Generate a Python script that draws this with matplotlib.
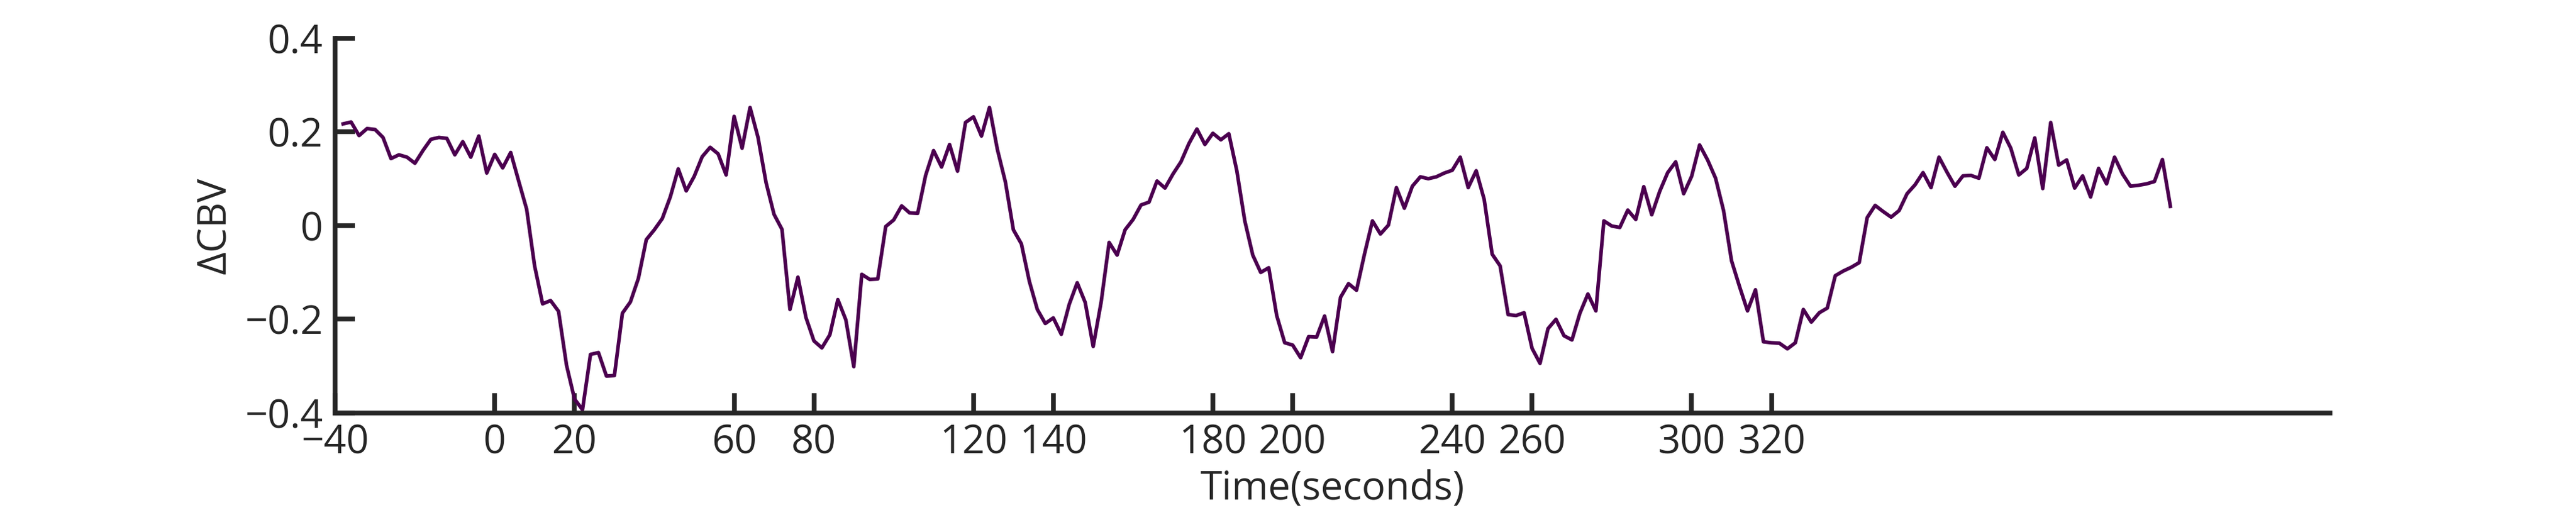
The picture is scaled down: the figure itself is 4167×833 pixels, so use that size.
import numpy as np
import matplotlib
matplotlib.use('Agg')
import matplotlib.pyplot as plt

# sample times (s), one sample every 2 s
time_s = np.arange(-38, 421, 2)

delta_cbv = [
    0.217, 0.221, 0.192, 0.207, 0.205, 0.188, 0.143, 0.151, 0.146, 0.133,
    0.160, 0.184, 0.188, 0.186, 0.151, 0.179, 0.146, 0.191, 0.112, 0.152,
    0.123, 0.156, 0.095, 0.035, -0.086, -0.167, -0.160, -0.183, -0.298, -0.370,
    -0.393, -0.275, -0.271, -0.321, -0.320, -0.187, -0.163, -0.113, -0.030, -0.009,
    0.015, 0.061, 0.121, 0.074, 0.105, 0.147, 0.167, 0.153, 0.108, 0.233,
    0.165, 0.252, 0.188, 0.092, 0.024, -0.008, -0.179, -0.110, -0.196, -0.246,
    -0.261, -0.233, -0.158, -0.201, -0.301, -0.104, -0.115, -0.114, -0.002, 0.012,
    0.042, 0.027, 0.026, 0.107, 0.160, 0.125, 0.173, 0.116, 0.220, 0.232,
    0.191, 0.252, 0.162, 0.093, -0.009, -0.039, -0.119, -0.179, -0.209, -0.197,
    -0.232, -0.168, -0.122, -0.164, -0.258, -0.163, -0.036, -0.063, -0.009, 0.013,
    0.044, 0.050, 0.095, 0.080, 0.110, 0.136, 0.175, 0.206, 0.173, 0.197,
    0.183, 0.196, 0.117, 0.010, -0.063, -0.100, -0.090, -0.192, -0.250, -0.255,
    -0.282, -0.237, -0.238, -0.193, -0.269, -0.153, -0.124, -0.138, -0.061, 0.010,
    -0.018, 0.001, 0.081, 0.037, 0.084, 0.104, 0.100, 0.104, 0.112, 0.118,
    0.146, 0.081, 0.117, 0.056, -0.061, -0.086, -0.190, -0.192, -0.186, -0.262,
    -0.294, -0.220, -0.200, -0.235, -0.244, -0.187, -0.146, -0.182, 0.010, -0.001,
    -0.004, 0.033, 0.013, 0.083, 0.023, 0.073, 0.113, 0.136, 0.068, 0.105,
    0.172, 0.140, 0.101, 0.032, -0.075, -0.130, -0.182, -0.137, -0.248, -0.250,
    -0.251, -0.263, -0.250, -0.179, -0.206, -0.186, -0.176, -0.107, -0.097, -0.089,
    -0.079, 0.017, 0.043, 0.030, 0.018, 0.032, 0.068, 0.087, 0.113, 0.081,
    0.146, 0.114, 0.084, 0.106, 0.107, 0.101, 0.166, 0.141, 0.199, 0.165,
    0.108, 0.122, 0.187, 0.079, 0.220, 0.129, 0.140, 0.080, 0.106, 0.061,
    0.122, 0.089, 0.146, 0.110, 0.084, 0.086, 0.089, 0.094, 0.141, 0.041,
]

x_ticks = [-40, 0, 20, 60, 80, 120, 140, 180, 200, 240, 260, 300, 320]
y_ticks = [-0.4, -0.2, 0, 0.2, 0.4]
y_tick_labels = ['\u22120.4', '\u22120.2', '0', '0.2', '0.4']

plt.rcParams['font.family'] = ['Open Sans', 'DejaVu Sans']
plt.rcParams['font.weight'] = 500
dark = '#262626'

fig = plt.figure(figsize=(41.67, 8.33), dpi=100)
ax = fig.add_axes([0.1301, 0.198, 0.7744, 0.728])

ax.plot(time_s, delta_cbv, color='#4b004f', linewidth=4.2, clip_on=False)

ax.set_xlim(-40, 460)
ax.set_ylim(-0.4, 0.4)
ax.set_xticks(x_ticks)
ax.set_xticklabels(['\u221240'] + [str(t) for t in x_ticks[1:]])
ax.set_yticks(y_ticks)
ax.set_yticklabels(y_tick_labels)

for side in ['top', 'right']:
    ax.spines[side].set_visible(False)
for side in ['left', 'bottom']:
    ax.spines[side].set_linewidth(5.5)
    ax.spines[side].set_color(dark)

ax.tick_params(direction='in', length=23, width=5.5, color=dark,
               labelsize=46, labelcolor=dark)
ax.tick_params(axis='x', pad=12)
ax.tick_params(axis='y', pad=14)

ax.set_xlabel('Time(seconds)', fontsize=46, color=dark)
ax.set_ylabel('\u0394CBV', fontsize=46, color=dark)
ax.xaxis.set_label_coords(0.5, -0.15)
ax.yaxis.set_label_coords(-0.05, 0.5)

fig.savefig('out.png', dpi=100)
